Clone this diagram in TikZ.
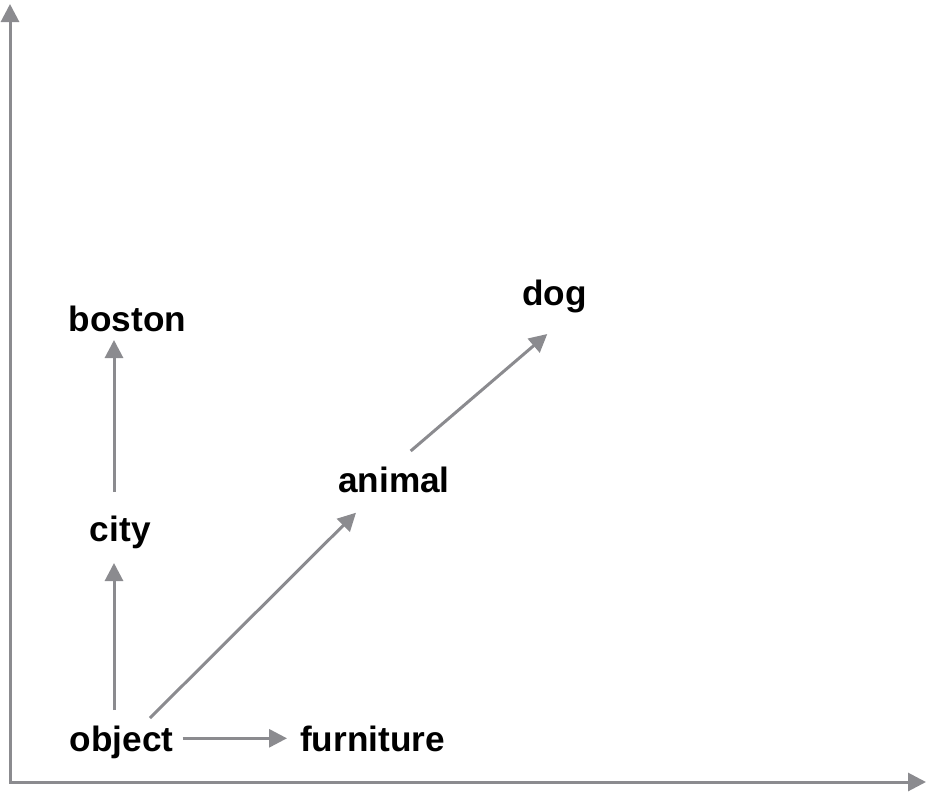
\documentclass[tikz,border=0pt]{standalone}
\usepackage{fontspec}
\setmainfont{Liberation Sans}
\usepackage{xcolor}
\usetikzlibrary{arrows.meta,calc}
\definecolor{axisgray}{RGB}{139,139,143}
\tikzstyle{line} = [draw, axisgray, line width=1.5pt, -{Triangle[length=9pt,width=9pt]}]
\tikzstyle{word} = [inner sep=0pt, anchor=base, font=\fontsize{17.6pt}{21pt}\selectfont\bfseries]

\begin{document}
\begin{tikzpicture}[x=0.5pt,y=-0.5pt]

\useasboundingbox (0,0) rectangle (928,794);

% axes
\coordinate (origin) at (10,782);
\draw[line, {Triangle[length=9pt,width=9pt]}-{Triangle[length=9pt,width=9pt]}]
	(10,4) -- (origin) -- (926,782);

% words
\node[word] (object)    at (121.5,751) {object};
\node[word] (furniture) at (372.5,751) {furniture};
\node[word] (city)      at (120.3,541) {city};
\node[word] (boston)    at (127.5,331) {boston};
\node[word] (animal)    at (394,492)   {animal};
\node[word] (dog)       at (554.7,305) {dog};

% relations
\draw[line] ([shift={(61,-12.7)}]object.base) -- ([shift={(-85.5,-12.7)}]furniture.base);
\draw[line] ([shift={(-7.5,-41)}]object.base) -- ([shift={(-6.3,22)}]city.base);
\draw[line] ([shift={(-6.3,-49)}]city.base) -- ([shift={(-13.5,9)}]boston.base);
\draw[line] ([shift={(28.5,-33)}]object.base) -- ([shift={(-38,20.7)}]animal.base);
\draw[line] ([shift={(16.7,-41)}]animal.base) -- ([shift={(-7.4,29)}]dog.base);

\end{tikzpicture}
\end{document}
